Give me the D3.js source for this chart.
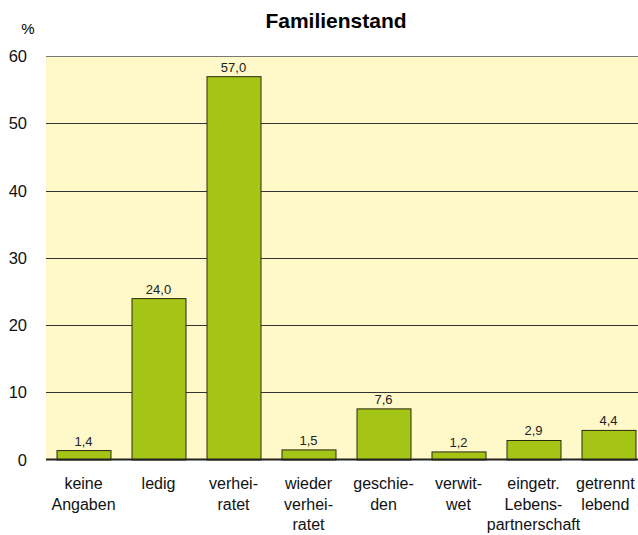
<!DOCTYPE html>
<html><head><meta charset="utf-8">
<script src="https://cdn.jsdelivr.net/npm/d3@7/dist/d3.min.js"></script>
<style>body{margin:0;background:#fff;}svg{display:block;font-family:Arial,"Liberation Sans",sans-serif;}</style>
</head><body><svg id="c" width="638" height="535"></svg>
<script>
const categories = [["keine","Angaben"],["ledig"],["verhei-","ratet"],["wieder","verhei-","ratet"],["geschie-","den"],["verwit-","wet"],["eingetr.","Lebens-","partnerschaft"],["getrennt","lebend"]];
const values = [1.4, 24.0, 57.0, 1.5, 7.6, 1.2, 2.9, 4.4];
const yTicks = [0, 10, 20, 30, 40, 50, 60];

(function() {
const svg = d3.select("#c");
const pL = 46, pR = 646, pT = 56, pB = 459.5;
const x = d3.scaleBand().domain(d3.range(values.length)).range([pL, pR]).paddingInner(0.28).paddingOuter(0.14);
const y = d3.scaleLinear().domain([0, 60]).range([pB, pT]);

svg.append("rect").attr("x", pL).attr("y", pT).attr("width", 638 - pL).attr("height", pB - pT).attr("fill", "#fff8c8");

svg.append("g").selectAll("line").data(yTicks.filter(t => t > 0)).join("line")
  .attr("x1", pL).attr("x2", 638).attr("y1", d => Math.round(y(d)) + 0.5).attr("y2", d => Math.round(y(d)) + 0.5)
  .attr("stroke", d => d === 60 ? "#777" : "#333").attr("stroke-width", 1);

const fmt = v => v.toFixed(1).replace(".", ",");
svg.append("g").selectAll("rect").data(values).join("rect")
  .attr("x", (d, i) => x(i) + 0.5).attr("width", x.bandwidth())
  .attr("y", d => y(d) + 0.5).attr("height", d => pB - y(d))
  .attr("fill", "#a4c416").attr("stroke", "#2a2a10").attr("stroke-width", 1);

svg.append("g").selectAll("text").data(values).join("text")
  .attr("x", (d, i) => x(i) + x.bandwidth() / 2).attr("y", d => y(d) - 4.5)
  .attr("text-anchor", "middle").attr("font-size", 13).attr("fill", "#222").text(fmt);

svg.append("line").attr("x1", pL).attr("x2", 638).attr("y1", pB).attr("y2", pB).attr("stroke", "#222").attr("stroke-width", 2);

svg.append("g").selectAll("text").data(yTicks).join("text")
  .attr("x", 27).attr("y", d => y(d) + 6).attr("text-anchor", "end").attr("font-size", 16.5).attr("fill", "#111").text(d => d);

svg.append("text").attr("x", 28).attr("y", 33.5).attr("text-anchor", "middle").attr("font-size", 15).text("%");
svg.append("text").attr("x", 336).attr("y", 27.5).attr("text-anchor", "middle").attr("font-size", 21).attr("font-weight", "bold").text("Familienstand");

const cl = svg.append("g").selectAll("text").data(categories).join("text")
  .attr("text-anchor", "middle").attr("font-size", 16).attr("fill", "#111");
cl.each(function(lines, i) {
  const t = d3.select(this);
  t.selectAll("tspan").data(lines).join("tspan")
    .attr("x", x(i) + x.bandwidth() / 2).attr("y", (l, j) => 489 + j * 20.5).text(l => l);
  const w = this.getBBox().width;
  const cx = Math.min(x(i) + x.bandwidth() / 2, 635 - w / 2);
  t.selectAll("tspan").attr("x", cx);
});
})();
</script></body></html>
